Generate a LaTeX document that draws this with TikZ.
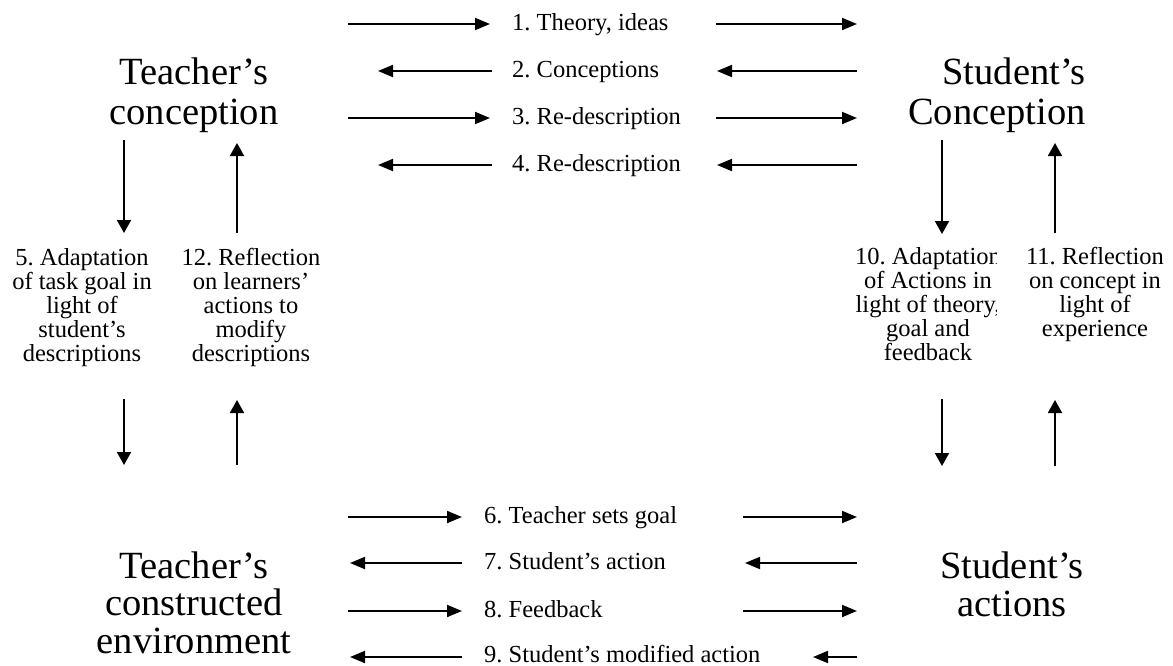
\documentclass[tikz,border=0pt]{standalone}
\usepackage{fontspec}
\setmainfont{Liberation Serif}
\usetikzlibrary{arrows.meta}
\begin{document}
\frenchspacing
\begin{tikzpicture}[x=1pt,y=-1pt,
  arr/.style={line width=1.9pt,-{Triangle[length=15pt,width=12pt]}},
  varr/.style={line width=1.9pt,-{Triangle[length=13pt,width=14pt]}},
  bigtop/.style={font=\fontsize{38.5}{40}\selectfont,align=center,inner sep=0pt},
  bigbot/.style={font=\fontsize{38.5}{37.5}\selectfont,align=center,inner sep=0pt},
  lab/.style={font=\fontsize{24.5}{24.5}\selectfont,anchor=base west,inner sep=0pt},
  blk/.style={font=\fontsize{24.5}{24}\selectfont,align=center,inner sep=0pt,anchor=base}]
\useasboundingbox (0,0) rectangle (1173,665);

% concept nodes (anchor base = baseline of last line)
\node[bigtop,anchor=base] (tc) at (194,124) {Teacher’s\\conception};
\node[bigtop,align=right,anchor=base east] (sc) at (1086,124) {Student’s\\Conception};
\node[bigbot,anchor=base] (te) at (194,653) {Teacher’s\\constructed\\environment};
\node[bigbot,anchor=base] (sa) at (1012,616) {Student’s\\actions};

% step labels
\node[lab] (l1) at (512,30) {1. Theory, ideas};
\node[lab] (l2) at (512,77) {2. Conceptions};
\node[lab] (l3) at (512,124) {3. Re-description};
\node[lab] (l4) at (512,171) {4. Re-description};
\node[lab] (l6) at (484,523) {6. Teacher sets goal};
\node[lab] (l7) at (484,569) {7. Student’s action};
\node[lab] (l8) at (484,617) {8. Feedback};
\node[lab] (l9) at (484,662) {9. Student’s modified action};

% side blocks
\node[blk] (b5) at (82,361) {5. Adaptation\\of task goal in\\light of\\student’s\\descriptions};
\node[blk] (b12) at (251,361) {12. Reflection\\on learners’\\actions to\\modify\\descriptions};
\begin{scope}
  \clip (0,0) rectangle (996,665);
  \node[blk] (b10) at (928,360) {10. Adaptation\\of Actions in\\light of theory,\\goal and\\feedback};
\end{scope}
\node[blk] (b11) at (1095,336) {11. Reflection\\on concept in\\light of\\experience};

% horizontal arrow end points
\coordinate (h1a) at (348,24);  \coordinate (h1b) at (490,24);
\coordinate (h1c) at (716,24);  \coordinate (h1d) at (857,24);
\coordinate (h2a) at (378,71);  \coordinate (h2b) at (492,71);
\coordinate (h2c) at (717,71);  \coordinate (h2d) at (857,71);
\coordinate (h3a) at (348,118); \coordinate (h3b) at (490,118);
\coordinate (h3c) at (716,118); \coordinate (h3d) at (857,118);
\coordinate (h4a) at (378,165); \coordinate (h4b) at (492,165);
\coordinate (h4c) at (717,165); \coordinate (h4d) at (857,165);
\coordinate (h6a) at (348,517); \coordinate (h6b) at (462,517);
\coordinate (h6c) at (743,517); \coordinate (h6d) at (857,517);
\coordinate (h7a) at (350,563); \coordinate (h7b) at (462,563);
\coordinate (h7c) at (745,563); \coordinate (h7d) at (857,563);
\coordinate (h8a) at (348,611); \coordinate (h8b) at (462,611);
\coordinate (h8c) at (743,611); \coordinate (h8d) at (857,611);
\coordinate (h9a) at (350,657); \coordinate (h9b) at (462,657);
\coordinate (h9c) at (813,657); \coordinate (h9d) at (857,657);

\draw[arr] (h1a) -- (h1b); \draw[arr] (h1c) -- (h1d);
\draw[arr] (h2b) -- (h2a); \draw[arr] (h2d) -- (h2c);
\draw[arr] (h3a) -- (h3b); \draw[arr] (h3c) -- (h3d);
\draw[arr] (h4b) -- (h4a); \draw[arr] (h4d) -- (h4c);
\draw[arr] (h6a) -- (h6b); \draw[arr] (h6c) -- (h6d);
\draw[arr] (h7b) -- (h7a); \draw[arr] (h7d) -- (h7c);
\draw[arr] (h8a) -- (h8b); \draw[arr] (h8c) -- (h8d);
\draw[arr] (h9b) -- (h9a); \draw[arr] (h9d) -- (h9c);

% vertical arrow end points
\coordinate (v1a) at (124,140);  \coordinate (v1b) at (124,233);
\coordinate (v2a) at (237,233);  \coordinate (v2b) at (237,143);
\coordinate (v3a) at (942,140);  \coordinate (v3b) at (942,234);
\coordinate (v4a) at (1055,233); \coordinate (v4b) at (1055,143);
\coordinate (v5a) at (124,399);  \coordinate (v5b) at (124,465);
\coordinate (v6a) at (237,465);  \coordinate (v6b) at (237,400);
\coordinate (v7a) at (942,399);  \coordinate (v7b) at (942,466);
\coordinate (v8a) at (1055,466); \coordinate (v8b) at (1055,400);

\foreach \i in {1,...,8} \draw[varr] (v\i a) -- (v\i b);
\end{tikzpicture}
\end{document}
